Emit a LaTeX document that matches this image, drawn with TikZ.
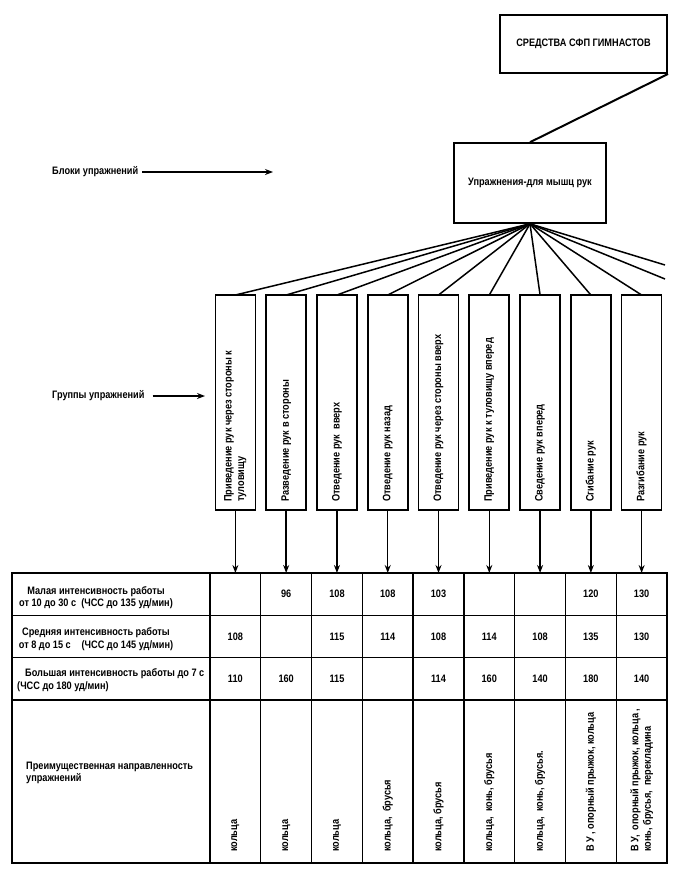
\documentclass[tikz,border=0pt]{standalone}
\usepackage{fontspec}
\setmainfont{Liberation Sans}[FakeStretch=0.85]
\usetikzlibrary{arrows.meta, positioning, calc}

\begin{document}
\begin{tikzpicture}[
  x=1pt, y=-1pt,
  every node/.style={font=\fontsize{10.8}{12.5}\selectfont\bfseries},
  topbox/.style={
    rectangle, draw, line width=2pt,
    minimum width=167pt, minimum height=58pt
  },
  blockbox/.style={
    rectangle, draw, line width=1.6pt,
    minimum width=152pt, minimum height=80pt
  },
  grpbox/.style={
    rectangle, draw, line width=1.6pt,
    minimum width=40pt, minimum height=215pt,
    inner sep=0pt, outer sep=0pt
  },
  vtext/.style={rotate=90, anchor=west, align=left, inner sep=0pt},
  cell/.style={
    rectangle, draw, line width=1.4pt,
    minimum width=50.78pt, minimum height=42.33pt,
    inner sep=0pt, outer sep=0pt
  },
  lblcell/.style={cell, minimum width=198pt},
  fan/.style={line width=1.5pt},
  arr/.style={-{Stealth[length=8pt, width=6pt]}, line width=1.5pt},
  lbl/.style={anchor=west, inner sep=0pt}
]
\useasboundingbox (0,0) rectangle (678,870);

%% Top boxes
\node[topbox] (sredstva) at (583.5,44) {СРЕДСТВА СФП ГИМНАСТОВ};
\node[blockbox] (ruki) at (530,183) {Упражнения-для мышц рук};
\draw[fan, line width=2pt] (sredstva.south east) -- (ruki.north);

%% Side labels
\node[lbl] (blk) at (52,172) {Блоки упражнений};
\coordinate (blkend) at (273,172);
\draw[arr] (blk.east) ++(4pt,0) -- (blkend);

\node[lbl] (grp) at (52,396) {Группы упражнений};
\coordinate (grpend) at (205,396);
\draw[arr] (grp.east) ++(8pt,0) -- (grpend);

%% Groups of exercises
\foreach \t [count=\i] in {
  {Приведение рук через стороны к\\туловищу},
  {Разведение рук в стороны},
  {Отведение рук\ \ вверх},
  {Отведение рук назад},
  {Отведение рук через стороны вверх},
  {Приведение рук к туловищу вперед},
  {Сведение рук вперед},
  {Сгибание рук},
  {Разгибание рук}} {
  \node[grpbox] (g\i) at ({210+50.78*(\i-0.5)},402.5) {};
  \node[vtext] (gt\i) at ([yshift=8pt]g\i.south) {\t};
  \draw[fan] (ruki.south) -- (g\i.north);
}

%% Lines to groups outside the picture
\coordinate (off1) at (665,265);
\coordinate (off2) at (665,279);
\draw[fan] (ruki.south) -- (off1);
\draw[fan] (ruki.south) -- (off2);

%% Table: row labels
\node[lblcell] (h1) at (111,594.17) {};
\node[lblcell] (h2) at (111,636.5) {};
\node[lblcell] (h3) at (111,678.83) {};
\node[lblcell, minimum height=163pt] (h4) at (111,781.5) {};

\node[align=center, inner sep=0pt] (h1t) at (96,597.5) {Малая интенсивность работы\\от 10 до 30 с\ \ (ЧСС до 135 уд/мин)};
\node[align=center, inner sep=0pt] (h2t) at (96,639) {Средняя интенсивность работы\\от 8 до 15 с\quad(ЧСС до 145 уд/мин)};
\node[lbl, align=left] (h3t) at (17,680) {\hspace*{8pt}Большая интенсивность работы до 7 с\\(ЧСС до 180 уд/мин)};
\node[lbl, align=left] (h4t) at (26,773) {Преимущественная направленность\\упражнений};

%% Table: values
\foreach \vals [count=\r] in {
  {{},96,108,108,103,{},{},120,130},
  {108,{},115,114,108,114,108,135,130},
  {110,160,115,{},114,160,140,180,140}} {
  \foreach \v [count=\c] in \vals {
    \node[cell] (c\r\c) at ({210+50.78*(\c-0.5)},{573+42.33*(\r-0.5)}) {\v};
  }
}

%% Table: main direction
\foreach \t [count=\c] in {
  {кольца},
  {кольца},
  {кольца},
  {кольца,\ \ брусья},
  {кольца, брусья},
  {кольца,\ \ конь, брусья},
  {кольца,\ \ конь, брусья.},
  {В У , опорный прыжок, кольца},
  {В У,\ \ опорный прыжок, кольца ,\\конь, брусья,\ \ перекладина}} {
  \node[cell, minimum height=163pt] (d\c) at ({210+50.78*(\c-0.5)},781.5) {};
  \node[vtext] (dt\c) at ([yshift=11pt]d\c.south) {\t};
}

%% Arrows from groups to table
\foreach \i in {1,...,9} {
  \draw[arr] (g\i.south) -- (c1\i.north);
}

\end{tikzpicture}
\end{document}
